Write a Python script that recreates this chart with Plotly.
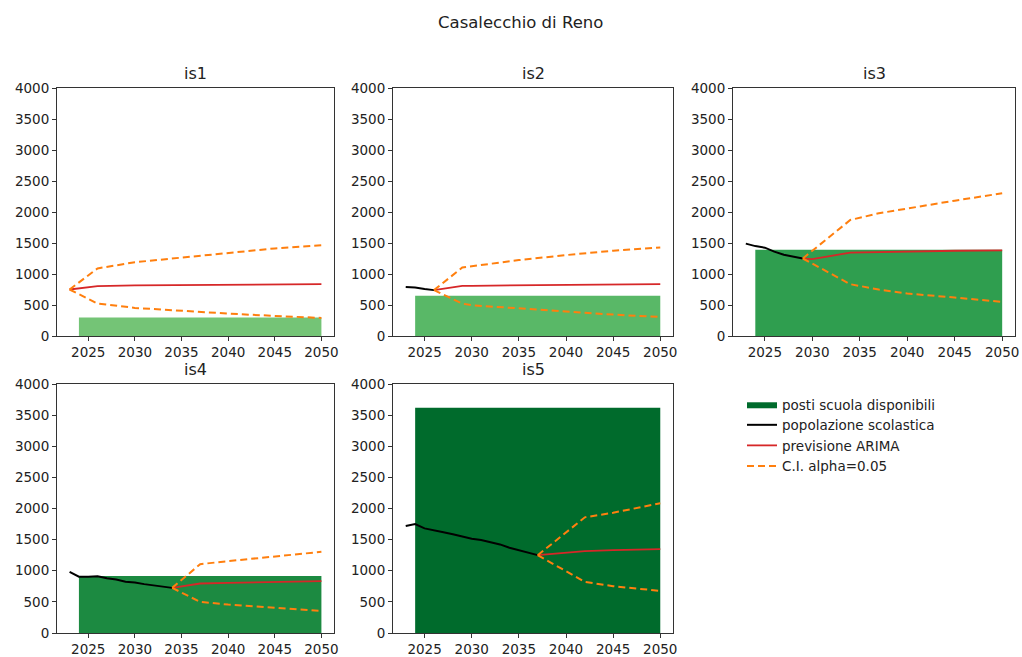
import plotly.graph_objects as go
from plotly.subplots import make_subplots

# --- data -----------------------------------------------------------------
schools = ["is1", "is2", "is3", "is4", "is5"]

# available school places (constant over the horizon)
capacity = [300, 650, 1390, 915, 3620]
capacity_start = 2024
capacity_end = 2050

# observed school population
pop_years_is1 = [2023]
pop_is1 = [750]
pop_years_is2 = [2023, 2024, 2025, 2026]
pop_is2 = [792, 782, 758, 740]
pop_years_is3 = [2023, 2024, 2025, 2026, 2027, 2028, 2029]
pop_is3 = [1490, 1450, 1425, 1360, 1310, 1285, 1250]
pop_years_is4 = [2023, 2024, 2025, 2026, 2027, 2028, 2029, 2030, 2031, 2032, 2033, 2034]
pop_is4 = [982, 905, 905, 913, 880, 860, 822, 812, 785, 768, 748, 725]
pop_years_is5 = [2023, 2024, 2025, 2026, 2027, 2028, 2029, 2030, 2031, 2032,
                 2033, 2034, 2035, 2036, 2037]
pop_is5 = [1718, 1750, 1681, 1643, 1617, 1585, 1546, 1514, 1493, 1456,
           1423, 1369, 1332, 1288, 1251]

# ARIMA forecast with 95% confidence interval
fc_years_is1 = [2023, 2026, 2030, 2035, 2040, 2045, 2050]
fc_is1 = [750, 803, 815, 822, 828, 832, 836]
hi_is1 = [750, 1090, 1190, 1261, 1343, 1413, 1465]
lo_is1 = [750, 523, 453, 405, 361, 324, 291]

fc_years_is2 = [2026, 2029, 2030, 2035, 2040, 2045, 2050]
fc_is2 = [740, 808, 810, 818, 826, 832, 836]
hi_is2 = [740, 1105, 1125, 1224, 1305, 1375, 1429]
lo_is2 = [740, 523, 496, 442, 388, 345, 307]

fc_years_is3 = [2029, 2030, 2034, 2037, 2040, 2045, 2050]
fc_is3 = [1250, 1240, 1345, 1355, 1365, 1375, 1380]
hi_is3 = [1250, 1374, 1871, 1979, 2060, 2183, 2302]
lo_is3 = [1250, 1167, 836, 750, 685, 621, 550]

fc_years_is4 = [2034, 2037, 2040, 2045, 2050]
fc_is4 = [725, 795, 805, 820, 832]
hi_is4 = [725, 1106, 1154, 1224, 1304]
lo_is4 = [725, 499, 457, 409, 354]

fc_years_is5 = [2037, 2042, 2045, 2050]
fc_is5 = [1250, 1316, 1330, 1348]
hi_is5 = [1250, 1858, 1932, 2084]
lo_is5 = [1250, 821, 752, 676]

x_ticks = [2025, 2030, 2035, 2040, 2045, 2050]
y_ticks = [0, 500, 1000, 1500, 2000, 2500, 3000, 3500, 4000]

# --- styling --------------------------------------------------------------
bar_colors = ["#74c476", "#59b867", "#2f9e4f", "#1c8a41", "#006b2c"]
FONT = "DejaVu Sans"
TXT = "#222222"

pop_years = [pop_years_is1, pop_years_is2, pop_years_is3, pop_years_is4, pop_years_is5]
pops = [pop_is1, pop_is2, pop_is3, pop_is4, pop_is5]
fc_years = [fc_years_is1, fc_years_is2, fc_years_is3, fc_years_is4, fc_years_is5]
fcs = [fc_is1, fc_is2, fc_is3, fc_is4, fc_is5]
his = [hi_is1, hi_is2, hi_is3, hi_is4, hi_is5]
los = [lo_is1, lo_is2, lo_is3, lo_is4, lo_is5]

fig = make_subplots(rows=2, cols=3, specs=[[{}, {}, {}], [{}, {}, None]])

positions = [(1, 1), (1, 2), (1, 3), (2, 1), (2, 2)]
for i, (r, c) in enumerate(positions):
    legend_on = (i == 4)
    fig.add_trace(go.Scatter(
        x=[capacity_start, capacity_end], y=[capacity[i], capacity[i]],
        mode="lines", line=dict(width=0, color=bar_colors[i]),
        fill="tozeroy", fillcolor=bar_colors[i],
        name="posti scuola disponibili", showlegend=legend_on,
        legendrank=1), row=r, col=c)
    fig.add_trace(go.Scatter(
        x=pop_years[i], y=pops[i], mode="lines",
        line=dict(color="black", width=2),
        name="popolazione scolastica", showlegend=legend_on,
        legendrank=2), row=r, col=c)
    fig.add_trace(go.Scatter(
        x=fc_years[i], y=fcs[i], mode="lines",
        line=dict(color="#d62728", width=1.8),
        name="previsione ARIMA", showlegend=legend_on,
        legendrank=3), row=r, col=c)
    fig.add_trace(go.Scatter(
        x=fc_years[i], y=his[i], mode="lines",
        line=dict(color="#ff7f0e", width=2, dash="7px,4px"),
        name="C.I. alpha=0.05", showlegend=legend_on,
        legendrank=4), row=r, col=c)
    fig.add_trace(go.Scatter(
        x=fc_years[i], y=los[i], mode="lines",
        line=dict(color="#ff7f0e", width=2, dash="7px,4px"),
        name="C.I. alpha=0.05", showlegend=False), row=r, col=c)

W, H = 1022, 657
col_px = [(57, 334), (393, 673), (733, 1015)]
row_px = [(88, 336), (384, 633)]

def xdom(c):
    a, b = col_px[c]
    return [a / W, b / W]

def ydom(r):
    a, b = row_px[r]
    return [1 - b / H, 1 - a / H]

axis_common = dict(
    showline=True, mirror=True, linecolor="#333333", linewidth=1,
    ticks="outside", ticklen=4, tickwidth=1, tickcolor="#333333",
    showgrid=False, zeroline=False, automargin=False,
    ticklabeloverflow="allow",
    tickfont=dict(family=FONT, size=13.5, color=TXT),
)

annotations = []
for i, (r, c) in enumerate(positions):
    k = "" if i == 0 else str(i + 1)
    fig.layout["xaxis" + k].update(
        domain=xdom(c - 1), range=[2021.65, 2051.35],
        tickvals=x_ticks, **axis_common)
    fig.layout["yaxis" + k].update(
        domain=ydom(r - 1), range=[0, 4000],
        tickvals=y_ticks, **axis_common)
    d = xdom(c - 1)
    annotations.append(dict(
        text=schools[i], x=(d[0] + d[1]) / 2, y=ydom(r - 1)[1] + 0.005,
        xref="paper", yref="paper", xanchor="center", yanchor="bottom",
        showarrow=False, font=dict(family=FONT, size=16, color=TXT)))

annotations.append(dict(
    text="Casalecchio di Reno", x=520 / W, y=1 - 22 / H,
    xref="paper", yref="paper", xanchor="center", yanchor="middle",
    showarrow=False, font=dict(family=FONT, size=16.5, color=TXT)))

fig.update_layout(
    width=W, height=H,
    margin=dict(l=0, r=0, t=0, b=0, autoexpand=False),
    paper_bgcolor="white", plot_bgcolor="white",
    annotations=annotations,
    showlegend=True,
    legend=dict(
        x=742 / W, y=1 - 389 / H, xanchor="left", yanchor="top",
        font=dict(family=FONT, size=13.5, color=TXT),
        bgcolor="rgba(0,0,0,0)", tracegroupgap=0,
    ),
)

fig.write_html("out.html")
